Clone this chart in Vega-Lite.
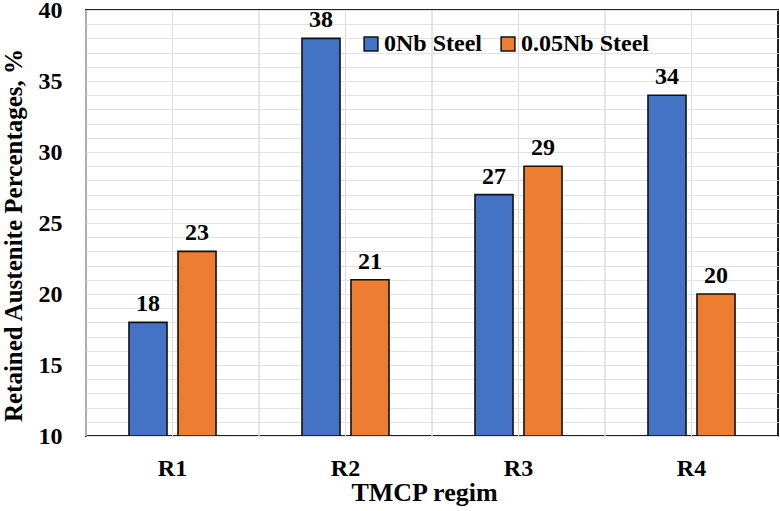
{
  "$schema": "https://vega.github.io/schema/vega-lite/v6.json",
  "width": 692,
  "height": 426,
  "autosize": {"type": "none"},
  "padding": {"left": 86, "top": 10, "right": 2, "bottom": 75},
  "background": "white",
  "config": {
    "font": "Times New Roman, Liberation Serif, DejaVu Serif, serif",
    "axis": {"labelFont": "Times New Roman, Liberation Serif, DejaVu Serif, serif", "titleFont": "Times New Roman, Liberation Serif, DejaVu Serif, serif"},
    "legend": {"labelFont": "Times New Roman, Liberation Serif, DejaVu Serif, serif"},
    "text": {"font": "Times New Roman, Liberation Serif, DejaVu Serif, serif"},
    "view": {"stroke": "#222222", "strokeWidth": 2}
  },
  "data": {
    "values": [
      {"regime": "R1", "steel": "0Nb Steel", "value": 18},
      {"regime": "R1", "steel": "0.05Nb Steel", "value": 23},
      {"regime": "R2", "steel": "0Nb Steel", "value": 38},
      {"regime": "R2", "steel": "0.05Nb Steel", "value": 21},
      {"regime": "R3", "steel": "0Nb Steel", "value": 27},
      {"regime": "R3", "steel": "0.05Nb Steel", "value": 29},
      {"regime": "R4", "steel": "0Nb Steel", "value": 34},
      {"regime": "R4", "steel": "0.05Nb Steel", "value": 20}
    ]
  },
  "layer": [
    {
      "mark": {"type": "rule", "color": "#dcdcdc", "strokeWidth": 1},
      "encoding": {
        "x": {
          "field": "regime", "type": "nominal", "bandPosition": 0,
          "scale": {"paddingInner": 0, "paddingOuter": 0},
          "axis": {
            "title": "TMCP regim",
            "titleFontSize": 26, "titleFontWeight": "bold", "titleColor": "black",
            "titleBaseline": "alphabetic", "titleY": 64, "titleX": 338,
            "labelFontSize": 24, "labelFontWeight": "bold", "labelColor": "black",
            "labelAngle": 0, "labelPadding": 20,
            "ticks": false, "domain": false,
            "grid": true, "gridColor": "#dcdcdc", "gridWidth": 1
          }
        }
      }
    },
    {
      "encoding": {
        "x": {
          "field": "regime", "type": "nominal",
          "scale": {"paddingInner": 0, "paddingOuter": 0},
          "axis": {
            "title": "TMCP regim",
            "titleFontSize": 26, "titleFontWeight": "bold", "titleColor": "black",
            "titleBaseline": "alphabetic", "titleY": 64, "titleX": 338,
            "labelFontSize": 24, "labelFontWeight": "bold", "labelColor": "black",
            "labelAngle": 0, "labelPadding": 20,
            "ticks": false, "domain": false,
            "grid": true, "gridColor": "#dcdcdc", "gridWidth": 1
          }
        },
        "xOffset": {
          "field": "steel", "type": "nominal",
          "sort": ["0Nb Steel", "0.05Nb Steel"],
          "scale": {"paddingInner": 0.224, "paddingOuter": 0.877}
        },
        "y": {
          "field": "value", "type": "quantitative",
          "scale": {"domain": [10, 40], "zero": false, "nice": false},
          "axis": {
            "title": "Retained Austenite Percentages, %",
            "titleFontSize": 25, "titleFontWeight": "bold", "titleColor": "black",
            "titlePadding": 12, "titleY": 225,
            "values": [10,11,12,13,14,15,16,17,18,19,20,21,22,23,24,25,26,27,28,29,30,31,32,33,34,35,36,37,38,39,40],
            "labelExpr": "datum.value % 5 === 0 ? datum.label : ''",
            "labelOverlap": false,
            "labelFontSize": 24, "labelFontWeight": "bold", "labelColor": "black",
            "labelPadding": 24,
            "ticks": false, "domain": false,
            "grid": true, "gridColor": "#e2e2e2", "gridWidth": 1
          }
        }
      },
      "layer": [
        {
          "mark": {"type": "bar", "stroke": "#111111", "strokeWidth": 1.6, "clip": true},
          "encoding": {
            "y2": {"datum": 10},
            "color": {
              "field": "steel", "type": "nominal",
              "sort": ["0Nb Steel", "0.05Nb Steel"],
              "scale": {"domain": ["0Nb Steel", "0.05Nb Steel"], "range": ["#4472C4", "#ED7D31"]},
              "legend": {
                "title": null,
                "orient": "none",
                "direction": "horizontal",
                "legendX": 273,
                "legendY": 22,
                "symbolType": "square",
                "symbolSize": 190,
                "symbolStrokeColor": "#111111",
                "symbolStrokeWidth": 1.5,
                "symbolOpacity": 1,
                "labelFontSize": 24,
                "labelFontWeight": "bold",
                "labelColor": "black",
                "labelOffset": 1,
                "columnPadding": 14,
                "labelLimit": 300
              }
            }
          }
        },
        {
          "mark": {"type": "text", "baseline": "bottom", "dy": -6, "fontSize": 24, "fontWeight": "bold", "color": "black"},
          "encoding": {
            "text": {"field": "value", "type": "quantitative"}
          }
        }
      ]
    }
  ]
}
